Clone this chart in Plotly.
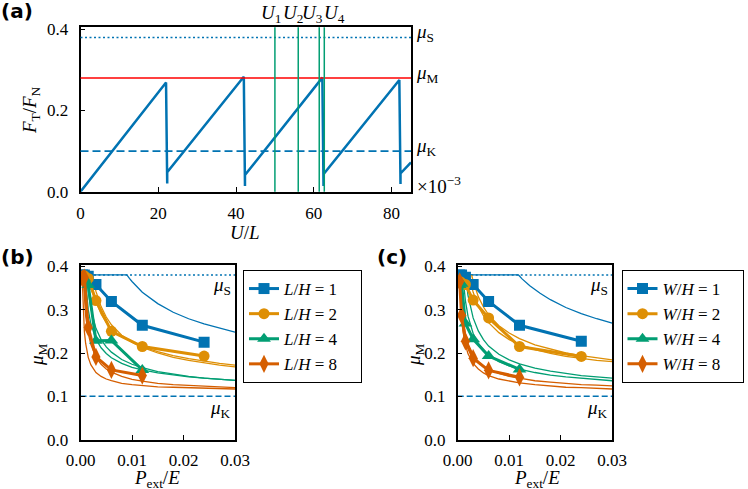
import plotly.graph_objects as go

# ---------------- colours ----------------
C_BLUE = "#0173B2"
C_ORANGE = "#DE8F05"
C_GREEN = "#029E73"
C_RED = "#D55E00"

MU_S = 0.38
MU_M = 0.28
MU_K = 0.10

# ---------------- panel (a) data ----------------
U_SAW = [0, 22.0, 22.3, 22.3, 42.0, 42.3, 42.3, 62.2, 62.5, 62.5, 82.0, 82.3, 82.3, 85.0]
F_SAW = [0, 0.269, 0.020, 0.048, 0.283, 0.014, 0.041, 0.281, 0.014, 0.043, 0.275, 0.019, 0.045, 0.072]
U_MARKS = [50.0, 56.0, 61.4, 62.7]
U_NAMES = ["<i>U</i><sub>1</sub>", "<i>U</i><sub>2</sub>", "<i>U</i><sub>3</sub>", "<i>U</i><sub>4</sub>"]
U_LABEL_SHIFT = [-4, -5, -7, 10]

# ---------------- panel (b) data ----------------
P_PTS = [0.000375, 0.00075, 0.0015, 0.003, 0.006, 0.012, 0.024]
B_L1 = [0.380, 0.380, 0.377, 0.358, 0.319, 0.264, 0.225]
B_L2 = [0.375, 0.378, 0.372, 0.321, 0.250, 0.215, 0.193]
B_L4 = [0.370, 0.372, 0.357, 0.228, 0.229, 0.161]
B_L8 = [0.372, 0.374, 0.259, 0.191, 0.161, 0.148]

B_BLUE_P = [0.0, 0.009, 0.0095, 0.010, 0.012, 0.015, 0.018, 0.021, 0.024, 0.027, 0.030]
B_BLUE_MU = [0.38, 0.38, 0.372, 0.365, 0.340, 0.314, 0.294, 0.279, 0.267, 0.257, 0.248]
B_OR1_P = [0.0023, 0.003, 0.004, 0.005, 0.006, 0.008, 0.010, 0.012, 0.015, 0.018, 0.021, 0.024, 0.027, 0.030]
B_OR1_MU = [0.38, 0.342, 0.307, 0.283, 0.265, 0.241, 0.225, 0.213, 0.200, 0.190, 0.183, 0.177, 0.172, 0.168]
B_OR2_P = [0.0015, 0.002, 0.003, 0.004, 0.005, 0.006, 0.008, 0.010, 0.012, 0.015, 0.018, 0.021, 0.024, 0.027, 0.030]
B_OR2_MU = [0.38, 0.350, 0.318, 0.290, 0.270, 0.256, 0.237, 0.225, 0.214, 0.203, 0.194, 0.187, 0.181, 0.176, 0.172]
B_GR1_P = [0.0012, 0.0015, 0.002, 0.003, 0.004, 0.005, 0.006, 0.008, 0.010, 0.012, 0.015, 0.018, 0.021, 0.024, 0.027, 0.030]
B_GR1_MU = [0.38, 0.343, 0.303, 0.257, 0.231, 0.214, 0.202, 0.185, 0.174, 0.166, 0.157, 0.151, 0.146, 0.142, 0.139, 0.137]
B_GR2_P = [0.0009, 0.0012, 0.0015, 0.002, 0.003, 0.004, 0.005, 0.006, 0.008, 0.010, 0.012, 0.015, 0.018, 0.021, 0.024, 0.027, 0.030]
B_GR2_MU = [0.38, 0.33, 0.30, 0.268, 0.232, 0.212, 0.199, 0.189, 0.176, 0.167, 0.161, 0.154, 0.149, 0.145, 0.142, 0.139, 0.137]
B_RD1_P = [0.0003, 0.0005, 0.00075, 0.001, 0.0015, 0.002, 0.003, 0.004, 0.005, 0.006, 0.008, 0.010, 0.012, 0.015, 0.018, 0.021, 0.024, 0.027, 0.030]
B_RD1_MU = [0.38, 0.30, 0.25, 0.222, 0.19, 0.173, 0.155, 0.146, 0.140, 0.136, 0.130, 0.127, 0.125, 0.122, 0.121, 0.120, 0.119, 0.118, 0.117]
B_RD2_P = [0.0005, 0.00075, 0.001, 0.0015, 0.002, 0.003, 0.004, 0.005, 0.006, 0.008, 0.010, 0.012, 0.015, 0.018, 0.021, 0.024, 0.027, 0.030]
B_RD2_MU = [0.38, 0.32, 0.285, 0.245, 0.22, 0.19, 0.174, 0.163, 0.156, 0.146, 0.139, 0.135, 0.130, 0.127, 0.125, 0.123, 0.121, 0.120]

# ---------------- panel (c) data ----------------
C_W1 = [0.380, 0.380, 0.375, 0.358, 0.319, 0.264, 0.227]
C_W2 = [0.365, 0.362, 0.358, 0.322, 0.281, 0.215, 0.192]
C_W4 = [0.357, 0.360, 0.268, 0.232, 0.193, 0.162]
C_W8 = [0.365, 0.287, 0.227, 0.188, 0.160, 0.144]

C_BLUE_P = [0.0, 0.0118, 0.0125, 0.014, 0.016, 0.018, 0.021, 0.024, 0.027, 0.030]
C_BLUE_MU = [0.38, 0.38, 0.371, 0.355, 0.338, 0.323, 0.305, 0.291, 0.279, 0.269]
C_OR1_P = [0.0027, 0.003, 0.004, 0.005, 0.006, 0.008, 0.010, 0.012, 0.015, 0.018, 0.021, 0.024, 0.027, 0.030]
C_OR1_MU = [0.38, 0.366, 0.330, 0.306, 0.288, 0.263, 0.246, 0.233, 0.219, 0.209, 0.200, 0.194, 0.189, 0.184]
C_OR2_P = [0.0022, 0.003, 0.004, 0.005, 0.006, 0.008, 0.010, 0.012, 0.015, 0.018, 0.021, 0.024, 0.027, 0.030]
C_OR2_MU = [0.38, 0.340, 0.308, 0.286, 0.270, 0.247, 0.231, 0.220, 0.208, 0.199, 0.192, 0.187, 0.183, 0.180]
C_GR1_P = [0.0015, 0.002, 0.003, 0.004, 0.005, 0.006, 0.008, 0.010, 0.012, 0.015, 0.018, 0.021, 0.024, 0.027, 0.030]
C_GR1_MU = [0.38, 0.333, 0.281, 0.251, 0.231, 0.216, 0.197, 0.184, 0.175, 0.165, 0.158, 0.153, 0.148, 0.145, 0.142]
C_GR2_P = [0.001, 0.0015, 0.002, 0.003, 0.004, 0.005, 0.006, 0.008, 0.010, 0.012, 0.015, 0.018, 0.021, 0.024, 0.027, 0.030]
C_GR2_MU = [0.38, 0.320, 0.285, 0.245, 0.222, 0.207, 0.196, 0.180, 0.170, 0.163, 0.155, 0.149, 0.145, 0.142, 0.139, 0.136]
C_RD1_P = [0.0005, 0.00075, 0.001, 0.0015, 0.002, 0.003, 0.004, 0.005, 0.006, 0.008, 0.010, 0.012, 0.015, 0.018, 0.021, 0.024, 0.027, 0.030]
C_RD1_MU = [0.38, 0.320, 0.285, 0.245, 0.222, 0.196, 0.180, 0.170, 0.163, 0.153, 0.146, 0.142, 0.136, 0.133, 0.130, 0.127, 0.126, 0.124]
C_RD2_P = [0.0004, 0.00075, 0.001, 0.0015, 0.002, 0.003, 0.004, 0.005, 0.006, 0.008, 0.010, 0.012, 0.015, 0.018, 0.021, 0.024, 0.027, 0.030]
C_RD2_MU = [0.38, 0.286, 0.254, 0.219, 0.198, 0.176, 0.163, 0.154, 0.148, 0.140, 0.135, 0.131, 0.127, 0.124, 0.121, 0.120, 0.118, 0.117]

LEG_VALUES = ["1", "2", "4", "8"]
SERIES_COLORS = [C_BLUE, C_ORANGE, C_GREEN, C_RED]
SERIES_SYMBOLS = ["square", "circle", "triangle-up", "diamond-tall"]
SERIES_SIZES = [11, 11, 12, 13]

SERIF = "Liberation Serif"
W, H = 748, 489

fig = go.Figure()

# ---- panel (a) ----
fig.add_trace(go.Scatter(x=U_SAW, y=F_SAW, mode="lines", line=dict(color=C_BLUE, width=2.5),
                         xaxis="x", yaxis="y", showlegend=False))

# ---- thin model curves ----
thin_b = [(B_BLUE_P, B_BLUE_MU, C_BLUE), (B_OR1_P, B_OR1_MU, C_ORANGE), (B_OR2_P, B_OR2_MU, C_ORANGE),
          (B_GR1_P, B_GR1_MU, C_GREEN), (B_GR2_P, B_GR2_MU, C_GREEN),
          (B_RD1_P, B_RD1_MU, C_RED), (B_RD2_P, B_RD2_MU, C_RED)]
for px_, py_, col in thin_b:
    fig.add_trace(go.Scatter(x=px_, y=py_, mode="lines", line=dict(color=col, width=1.3),
                             xaxis="x2", yaxis="y2", showlegend=False, hoverinfo="skip"))
thin_c = [(C_BLUE_P, C_BLUE_MU, C_BLUE), (C_OR1_P, C_OR1_MU, C_ORANGE), (C_OR2_P, C_OR2_MU, C_ORANGE),
          (C_GR1_P, C_GR1_MU, C_GREEN), (C_GR2_P, C_GR2_MU, C_GREEN),
          (C_RD1_P, C_RD1_MU, C_RED), (C_RD2_P, C_RD2_MU, C_RED)]
for px_, py_, col in thin_c:
    fig.add_trace(go.Scatter(x=px_, y=py_, mode="lines", line=dict(color=col, width=1.3),
                             xaxis="x3", yaxis="y3", showlegend=False, hoverinfo="skip"))

# ---- data series (b) and (c) ----
PAD = "\u2002\u2002"
for i, ys in enumerate([B_L1, B_L2, B_L4, B_L8]):
    fig.add_trace(go.Scatter(
        x=P_PTS[:len(ys)], y=ys, mode="lines+markers",
        line=dict(color=SERIES_COLORS[i], width=3),
        marker=dict(symbol=SERIES_SYMBOLS[i], size=SERIES_SIZES[i], color=SERIES_COLORS[i]),
        name=f"<i>L</i>/<i>H</i> = {LEG_VALUES[i]}{PAD}", legend="legend",
        xaxis="x2", yaxis="y2"))
for i, ys in enumerate([C_W1, C_W2, C_W4, C_W8]):
    fig.add_trace(go.Scatter(
        x=P_PTS[:len(ys)], y=ys, mode="lines+markers",
        line=dict(color=SERIES_COLORS[i], width=3),
        marker=dict(symbol=SERIES_SYMBOLS[i], size=SERIES_SIZES[i], color=SERIES_COLORS[i]),
        name=f"<i>W</i>/<i>H</i> = {LEG_VALUES[i]}{PAD}", legend="legend2",
        xaxis="x3", yaxis="y3"))

# ---- layout / axes ----
def px2x(p):
    return p / W

def py2y(p):
    return 1 - p / H

axis_common = dict(showline=True, linecolor="black", linewidth=1.5, mirror=True,
                   ticks="inside", ticklen=5, tickwidth=1.2, tickcolor="black",
                   showgrid=False, zeroline=False, automargin=False,
                   tickfont=dict(family=SERIF, size=17, color="black"))

fig.update_layout(
    width=W, height=H, margin=dict(l=0, r=0, t=0, b=0, pad=0),
    paper_bgcolor="white", plot_bgcolor="white",
    xaxis=dict(domain=[px2x(80.5), px2x(411)], range=[0, 85], anchor="y",
               tickvals=[0, 20, 40, 60, 80], ticklabelstandoff=5, **axis_common),
    yaxis=dict(domain=[py2y(191.7), py2y(27.3)], range=[0, 0.405], anchor="x",
               tickvals=[0, 0.2, 0.4], tickformat=".1f", ticklabelstandoff=7, **axis_common),
    xaxis2=dict(domain=[px2x(80.5), px2x(235)], range=[0, 0.03], anchor="y2",
                tickvals=[0, 0.01, 0.02, 0.03], tickformat=".2f", ticklabelstandoff=4, **axis_common),
    yaxis2=dict(domain=[py2y(439.7), py2y(265)], range=[0, 0.403], anchor="x2",
                tickvals=[0, 0.1, 0.2, 0.3, 0.4], tickformat=".1f", ticklabelstandoff=7, **axis_common),
    xaxis3=dict(domain=[px2x(457.7), px2x(612.2)], range=[0, 0.03], anchor="y3",
                tickvals=[0, 0.01, 0.02, 0.03], tickformat=".2f", ticklabelstandoff=4, **axis_common),
    yaxis3=dict(domain=[py2y(439.7), py2y(265)], range=[0, 0.403], anchor="x3",
                tickvals=[0, 0.1, 0.2, 0.3, 0.4], tickformat=".1f", ticklabelstandoff=7, **axis_common),
    legend=dict(x=px2x(243), y=py2y(270), xanchor="left", yanchor="top",
                bordercolor="black", borderwidth=1, bgcolor="white",
                font=dict(family=SERIF, size=17, color="black"), tracegroupgap=0),
    legend2=dict(x=px2x(621.5), y=py2y(270), xanchor="left", yanchor="top",
                 bordercolor="black", borderwidth=1, bgcolor="white",
                 font=dict(family=SERIF, size=17, color="black"), tracegroupgap=0),
)

shapes = []
shapes.append(dict(type="line", xref="x domain", yref="y", x0=0, x1=1, y0=MU_S, y1=MU_S,
                   line=dict(color=C_BLUE, width=1.6, dash="2px,2.5px")))
shapes.append(dict(type="line", xref="x domain", yref="y", x0=0, x1=1, y0=MU_M, y1=MU_M,
                   line=dict(color="red", width=1.5)))
shapes.append(dict(type="line", xref="x domain", yref="y", x0=0, x1=1, y0=MU_K, y1=MU_K,
                   line=dict(color=C_BLUE, width=1.6, dash="8px,4px")))
for u in U_MARKS:
    shapes.append(dict(type="line", xref="x", yref="y domain", x0=u, x1=u, y0=0, y1=1,
                       line=dict(color=C_GREEN, width=1.5)))
for xa, ya in [("x2", "y2"), ("x3", "y3")]:
    shapes.append(dict(type="line", xref=f"{xa} domain", yref=ya, x0=0, x1=1, y0=MU_S, y1=MU_S,
                       line=dict(color=C_BLUE, width=1.5, dash="2px,2.5px"), layer="below"))
    shapes.append(dict(type="line", xref=f"{xa} domain", yref=ya, x0=0, x1=1, y0=MU_K, y1=MU_K,
                       line=dict(color=C_BLUE, width=1.5, dash="6px,3px"), layer="below"))
fig.update_layout(shapes=shapes)

ann = []
tf = dict(family=SERIF, size=19, color="black")
for val, sub in [(MU_S, "S"), (MU_M, "M"), (MU_K, "K")]:
    ann.append(dict(xref="x domain", yref="y", x=1, y=val, xshift=3, yshift=4, xanchor="left", yanchor="middle",
                    text=f"<i>μ</i><sub>{sub}</sub>", showarrow=False, font=tf))
ann.append(dict(xref="x domain", yref="y", x=1, y=0, xshift=4, yshift=7, xanchor="left", yanchor="middle",
                text="×10<sup>−3</sup>", showarrow=False, font=dict(family=SERIF, size=19, color="black")))
for u, name, sh in zip(U_MARKS, U_NAMES, U_LABEL_SHIFT):
    ann.append(dict(xref="x", yref="y domain", x=u, y=1, xshift=sh, yshift=-1, xanchor="center", yanchor="bottom",
                    text=name, showarrow=False, font=tf))
for xa, ya in [("x2", "y2"), ("x3", "y3")]:
    ann.append(dict(xref=f"{xa} domain", yref=ya, x=1, y=MU_S, xshift=-2, yshift=-11, xanchor="right",
                    yanchor="middle", text="<i>μ</i><sub>S</sub>", showarrow=False, font=tf))
    ann.append(dict(xref=f"{xa} domain", yref=ya, x=1, y=MU_K, xshift=-2, yshift=-13, xanchor="right",
                    yanchor="middle", text="<i>μ</i><sub>K</sub>", showarrow=False, font=tf))
ann.append(dict(xref="paper", yref="paper", x=px2x(31), y=py2y(110), text="<i>F</i><sub>T</sub>/<i>F</i><sub>N</sub>",
                textangle=-90, showarrow=False, font=tf, xanchor="center", yanchor="middle"))
ann.append(dict(xref="paper", yref="paper", x=px2x(245), y=py2y(232), text="<i>U</i>/<i>L</i>",
                showarrow=False, font=tf, xanchor="center", yanchor="middle"))
for xc in [38, 415]:
    ann.append(dict(xref="paper", yref="paper", x=px2x(xc), y=py2y(355), text="<i>μ</i><sub>M</sub>",
                    textangle=-90, showarrow=False, font=tf, xanchor="center", yanchor="middle"))
for xc in [157, 537]:
    ann.append(dict(xref="paper", yref="paper", x=px2x(xc), y=py2y(479),
                    text="<i>P</i><sub>ext</sub>/<i>E</i>", showarrow=False, font=tf,
                    xanchor="center", yanchor="middle"))
pf = dict(family="DejaVu Sans", size=20, color="black")
for lab, xc, yc in [("(a)", 17, 11), ("(b)", 17, 257), ("(c)", 392, 257)]:
    ann.append(dict(xref="paper", yref="paper", x=px2x(xc), y=py2y(yc), text=f"<b>{lab}</b>",
                    showarrow=False, font=pf, xanchor="center", yanchor="middle"))
fig.update_layout(annotations=ann)

fig.write_html("out.html", post_script="document.body.style.margin='0px';")
